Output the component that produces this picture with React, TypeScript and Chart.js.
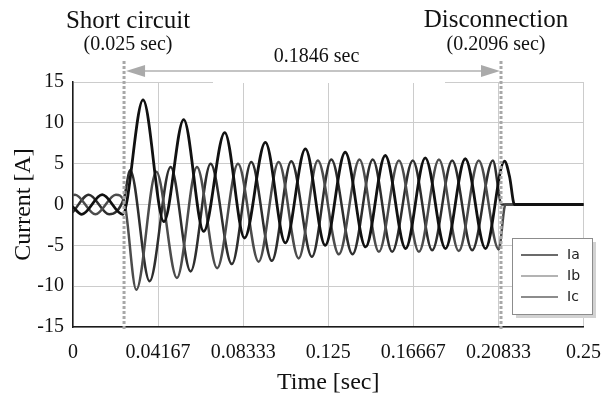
import React, { useEffect, useRef } from 'react';
import { Chart, registerables } from 'chart.js';

Chart.register(...registerables);

// ---- axis ticks ----
const xTickValues = [0, 0.04167, 0.08333, 0.125, 0.16667, 0.20833, 0.25];
const xTickLabels = ['0', '0.04167', '0.08333', '0.125', '0.16667', '0.20833', '0.25'];
const yTickValues = [-15, -10, -5, 0, 5, 10, 15];

// ---- series (time [s], current [A]) read at peaks / troughs ----
const seriesNames = ['Ia', 'Ib', 'Ic'];

const iaTime = [0, 0.0043, 0.0143, 0.0243, 0.0343, 0.0445, 0.0542, 0.064, 0.0743, 0.084, 0.0942, 0.104, 0.1138, 0.1235, 0.1333, 0.1433, 0.1529, 0.1629, 0.1725, 0.1824, 0.1921, 0.202, 0.2113, 0.2138, 0.2162, 0.25];
const iaCurrent = [-0.3, -1.2, 1.2, -1.2, 12.8, -2.1, 10.4, -3.3, 8.8, -4.1, 7.6, -4.7, 6.8, -5.0, 6.4, -5.2, 6.0, -5.4, 5.7, -5.4, 5.6, -5.4, 5.3, 3.4, 0, 0];

const ibTime = [0, 0.001, 0.011, 0.021, 0.025, 0.031, 0.0408, 0.0509, 0.0607, 0.0706, 0.0808, 0.0909, 0.1007, 0.1105, 0.1199, 0.1302, 0.1403, 0.1498, 0.1596, 0.1694, 0.1792, 0.1889, 0.1987, 0.2085, 0.2118, 0.25];
const ibCurrent = [1.15, 1.2, -1.2, 1.2, 0.4, -10.45, 4.0, -9.0, 4.6, -7.8, 5.0, -7.0, 5.2, -6.6, 5.4, -6.1, 5.5, -5.8, 5.4, -5.8, 5.5, -5.7, 5.4, -5.5, 0, 0];

const icTime = [0, 0.0077, 0.0177, 0.025, 0.028, 0.0375, 0.0478, 0.0576, 0.0674, 0.0778, 0.0873, 0.0974, 0.1069, 0.117, 0.1265, 0.1369, 0.1468, 0.1563, 0.1664, 0.1759, 0.1857, 0.1955, 0.2056, 0.21, 0.25];
const icCurrent = [-0.9, 1.2, -1.2, 0.8, 4.2, -9.4, 4.6, -8.2, 5.0, -7.3, 5.2, -6.9, 5.3, -6.4, 5.5, -6.1, 5.5, -5.8, 5.4, -5.6, 5.4, -5.6, 5.4, 0, 0];

// ---- events ----
const faultTime = 0.025;
const disconnectTime = 0.2096;
const faultTitle = 'Short circuit';
const faultSub = '(0.025 sec)';
const discTitle = 'Disconnection';
const discSub = '(0.2096 sec)';
const durationLabel = '0.1846 sec';

const lineColors = ['#111111', '#4c4c4c', '#2e2e2e'];
const lineWidths = [2.8, 2.5, 2.5];
const legendColors = ['#3a3a3a', '#9a9a9a', '#666666'];

const SERIF = '"Liberation Serif", "Times New Roman", serif';

function toPoints(t: number[], v: number[]) {
  return t.map((tt, i) => ({ x: tt, y: v[i] }));
}

const annotPlugin = {
  id: 'annot',
  afterDatasetsDraw(chart: any) {
    const { ctx, chartArea, scales } = chart;
    const x = scales.x;
    const top = chartArea.top;
    const bottom = chartArea.bottom;
    const xf = x.getPixelForValue(faultTime);
    const xd = x.getPixelForValue(disconnectTime);
    ctx.save();

    // top border gap (hidden behind annotation area)
    ctx.fillStyle = '#ffffff';
    ctx.fillRect(213, top - 1.5, 232, 2.5);

    // dashed event lines
    ctx.strokeStyle = '#a8a8a8';
    ctx.lineWidth = 3;
    ctx.setLineDash([3, 2]);
    [xf, xd].forEach((px) => {
      ctx.beginPath();
      ctx.moveTo(px, top - 21);
      ctx.lineTo(px, bottom + 3);
      ctx.stroke();
    });
    ctx.setLineDash([]);

    // duration arrow
    const ay = top - 11;
    const x1 = xf + 2;
    const x2 = xd - 1;
    ctx.strokeStyle = '#b0b0b0';
    ctx.lineWidth = 1.3;
    ctx.beginPath();
    ctx.moveTo(x1 + 10, ay);
    ctx.lineTo(x2 - 10, ay);
    ctx.stroke();
    ctx.fillStyle = '#aaaaaa';
    ctx.beginPath();
    ctx.moveTo(x1, ay);
    ctx.lineTo(x1 + 19, ay - 6);
    ctx.lineTo(x1 + 19, ay + 6);
    ctx.closePath();
    ctx.fill();
    ctx.beginPath();
    ctx.moveTo(x2, ay);
    ctx.lineTo(x2 - 19, ay - 6);
    ctx.lineTo(x2 - 19, ay + 6);
    ctx.closePath();
    ctx.fill();

    // texts
    ctx.fillStyle = '#111111';
    ctx.textAlign = 'center';
    ctx.textBaseline = 'alphabetic';
    ctx.font = `25px ${SERIF}`;
    ctx.fillText(faultTitle, xf + 4, top - 54);
    ctx.fillText(discTitle, xd - 5, top - 55);
    ctx.font = `20px ${SERIF}`;
    ctx.fillText(faultSub, xf + 4, top - 32);
    ctx.fillText(discSub, xd - 5, top - 32);
    ctx.fillText(durationLabel, (xf + xd) / 2 + 4, top - 20);

    // legend
    const lx = 512, ly = 238, lw = 80, lh = 76;
    ctx.fillStyle = '#d2d2d2';
    ctx.fillRect(lx + 4, ly + 4, lw, lh);
    ctx.fillStyle = '#ffffff';
    ctx.fillRect(lx, ly, lw, lh);
    ctx.strokeStyle = '#8c8c8c';
    ctx.lineWidth = 1;
    ctx.strokeRect(lx + 0.5, ly + 0.5, lw, lh);
    const rowsY = [255, 276, 297];
    ctx.font = '14px "DejaVu Sans", sans-serif';
    ctx.textAlign = 'left';
    ctx.textBaseline = 'middle';
    chart.data.datasets.forEach((ds: any, i: number) => {
      ctx.strokeStyle = legendColors[i];
      ctx.lineWidth = 1.3;
      ctx.beginPath();
      ctx.moveTo(lx + 9, rowsY[i]);
      ctx.lineTo(lx + 46, rowsY[i]);
      ctx.stroke();
      ctx.fillStyle = '#222222';
      ctx.fillText(ds.label, lx + 55, rowsY[i]);
    });
    ctx.restore();
  },
};

export default function App() {
  const canvasRef = useRef<HTMLCanvasElement | null>(null);

  useEffect(() => {
    if (!canvasRef.current) return;
    const datasets = [
      toPoints(iaTime, iaCurrent),
      toPoints(ibTime, ibCurrent),
      toPoints(icTime, icCurrent),
    ].map((pts, i) => ({
      label: seriesNames[i],
      data: pts,
      borderColor: lineColors[i],
      backgroundColor: lineColors[i],
      borderWidth: lineWidths[i],
      pointRadius: 0,
      cubicInterpolationMode: 'monotone' as const,
      borderJoinStyle: 'round' as const,
      borderCapStyle: 'round' as const,
      fill: false,
    }));

    const chart = new Chart(canvasRef.current, {
      type: 'line',
      data: { datasets },
      options: {
        animation: false,
        responsive: false,
        parsing: true,
        layout: { padding: { top: 82, right: 31, bottom: 0, left: 0 } },
        plugins: {
          legend: { display: false },
          tooltip: { enabled: false },
        },
        scales: {
          x: {
            type: 'linear',
            min: 0,
            max: 0.25,
            afterBuildTicks: (scale: any) => {
              scale.ticks = xTickValues.map((v) => ({ value: v }));
            },
            afterFit: (scale: any) => {
              scale.height = 76;
            },
            ticks: {
              autoSkip: false,
              maxRotation: 0,
              padding: 14,
              color: '#111111',
              font: { family: SERIF, size: 20 },
              callback: (_v: any, i: number) => xTickLabels[i],
            },
            grid: { color: '#cccccc', lineWidth: 1, drawTicks: false },
            border: { display: true, color: '#1a1a1a', width: 1.5 },
            title: {
              display: true,
              text: 'Time [sec]',
              color: '#111111',
              font: { family: SERIF, size: 24 },
              padding: { top: 0, bottom: 6 },
            },
          },
          y: {
            type: 'linear',
            min: -15,
            max: 15,
            afterBuildTicks: (scale: any) => {
              scale.ticks = yTickValues.map((v) => ({ value: v }));
            },
            afterFit: (scale: any) => {
              scale.width = 73;
            },
            ticks: {
              padding: 9,
              color: '#111111',
              font: { family: SERIF, size: 20 },
              callback: (v: any) => String(v),
            },
            grid: { color: '#cccccc', lineWidth: 1, drawTicks: false },
            border: { display: true, color: '#1a1a1a', width: 1.5 },
            title: {
              display: true,
              text: 'Current [A]',
              color: '#111111',
              font: { family: SERIF, size: 24 },
              padding: { top: 9, bottom: 0 },
            },
          },
        },
      },
      plugins: [annotPlugin],
    });
    return () => chart.destroy();
  }, []);

  return (
    <div style={{ position: 'absolute', left: 0, top: 0, width: 615, height: 403, background: '#fff' }}>
      <canvas ref={canvasRef} width={615} height={403} style={{ display: 'block' }} />
    </div>
  );
}
